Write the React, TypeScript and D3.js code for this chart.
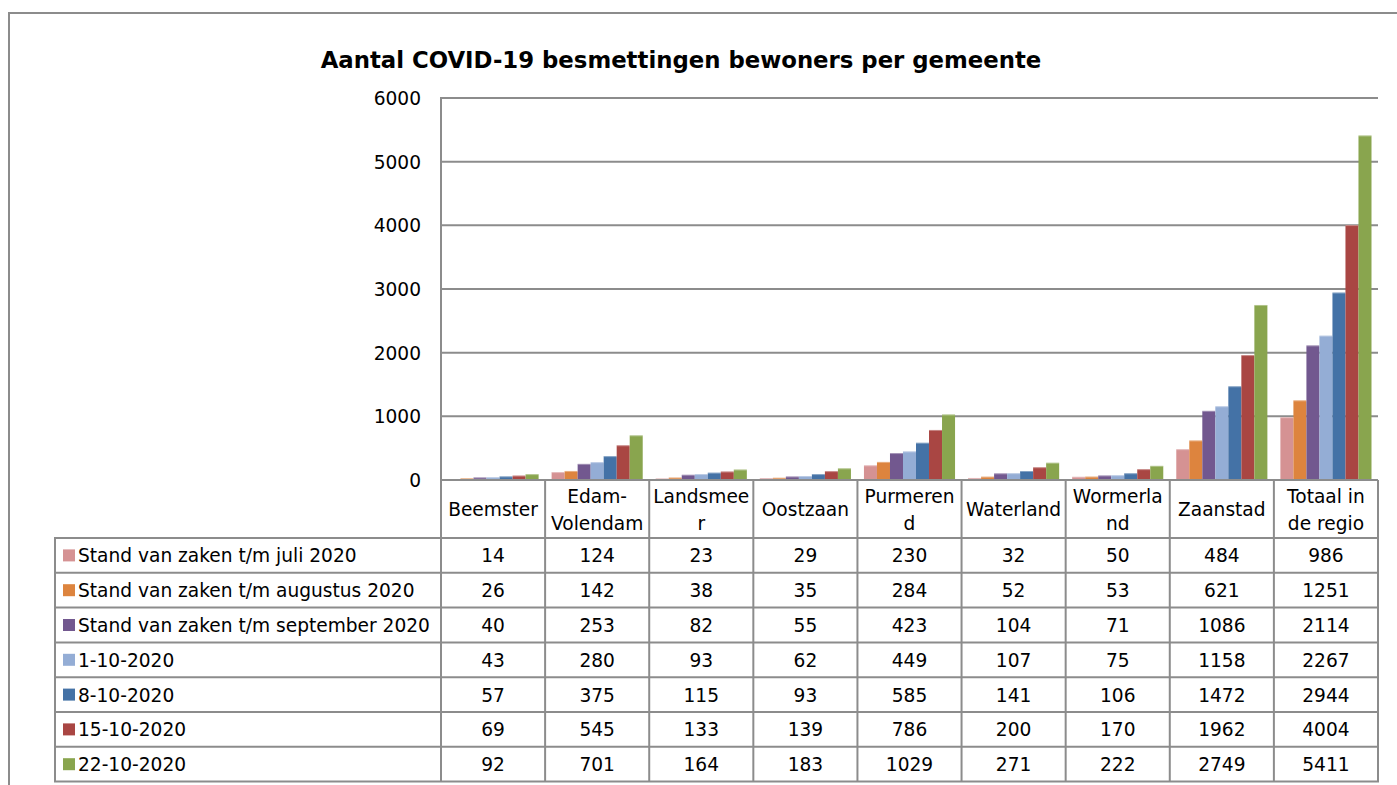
import React from "react";
import * as d3 from "d3";

const categories = ["Beemster", "Edam-Volendam", "Landsmeer", "Oostzaan", "Purmerend", "Waterland", "Wormerland", "Zaanstad", "Totaal in de regio"];
const categoryLabelLines = [["Beemster"], ["Edam-", "Volendam"], ["Landsmee", "r"], ["Oostzaan"], ["Purmeren", "d"], ["Waterland"], ["Wormerla", "nd"], ["Zaanstad"], ["Totaal in", "de regio"]];

const seriesNames = [
  "Stand van zaken t/m juli 2020",
  "Stand van zaken t/m augustus 2020",
  "Stand van zaken t/m september 2020",
  "1-10-2020",
  "8-10-2020",
  "15-10-2020",
  "22-10-2020",
];
const juli = [14, 124, 23, 29, 230, 32, 50, 484, 986];
const augustus = [26, 142, 38, 35, 284, 52, 53, 621, 1251];
const september = [40, 253, 82, 55, 423, 104, 71, 1086, 2114];
const okt1 = [43, 280, 93, 62, 449, 107, 75, 1158, 2267];
const okt8 = [57, 375, 115, 93, 585, 141, 106, 1472, 2944];
const okt15 = [69, 545, 133, 139, 786, 200, 170, 1962, 4004];
const okt22 = [92, 701, 164, 183, 1029, 271, 222, 2749, 5411];
const seriesValues = [juli, augustus, september, okt1, okt8, okt15, okt22];
const yTicks = [0, 1000, 2000, 3000, 4000, 5000, 6000];

const colors = ["#D59293", "#DD843E", "#72588F", "#94ADD5", "#4472A6", "#A94643", "#89A54E"];

const W = 1397;
const H = 785;
const plotLeft = 441;
const plotRight = 1378;
const plotTop = 98;
const plotBottom = 480;
const tableLeft = 55;
const headerBottom = 538;
const rowH = 34.8;
const font = "Tahoma, 'DejaVu Sans', sans-serif";
const gridColor = "#8c8c8c";
const fs = 18.6;

export default function App() {
  const x = d3.scaleBand<string>().domain(categories).range([plotLeft, plotRight]).paddingInner(0).paddingOuter(0);
  const y = d3.scaleLinear().domain([0, 6000]).range([plotBottom, plotTop]);
  const bw = x.bandwidth();
  const inner = d3
    .scaleBand<number>()
    .domain(d3.range(seriesNames.length))
    .range([bw / 16, bw - bw / 16])
    .padding(0);

  const colEdges = categories.map((c) => x(c)!).concat([plotRight]);

  return (
    <svg width={W} height={H} style={{ position: "absolute", left: 0, top: 0, background: "#fff" }} fontFamily={font}>
      <rect x={9} y={13} width={W + 20} height={H + 20} fill="#fff" stroke="#8c8c8c" strokeWidth={2} />
      <text x={681} y={68} textAnchor="middle" fontWeight="bold" fontSize={22.8} fill="#000">
        Aantal COVID-19 besmettingen bewoners per gemeente
      </text>

      {/* gridlines */}
      {yTicks.map((t) => (
        <line key={t} x1={plotLeft} x2={plotRight} y1={y(t)} y2={y(t)} stroke={gridColor} strokeWidth={2} />
      ))}
      {yTicks.map((t) => (
        <text key={"l" + t} x={421} y={y(t) + 7} textAnchor="end" fontSize={fs} fill="#000">
          {t}
        </text>
      ))}

      {/* bars */}
      {seriesValues.map((vals, si) =>
        vals.map((v, ci) => (
          <rect
            key={si + "-" + ci}
            x={x(categories[ci])! + inner(si)!}
            y={y(v)}
            width={inner.bandwidth()}
            height={plotBottom - y(v)}
            fill={colors[si]}
          />
        ))
      )}
      {seriesValues.map((vals, si) =>
        vals.map((v, ci) => (
          <line
            key={"t" + si + "-" + ci}
            x1={x(categories[ci])! + inner(si)!}
            x2={x(categories[ci])! + inner(si)! + inner.bandwidth()}
            y1={y(v) + 0.5}
            y2={y(v) + 0.5}
            stroke="#fff"
            strokeOpacity={0.35}
            strokeWidth={1}
          />
        ))
      )}

      {/* y axis */}
      <line x1={plotLeft} x2={plotLeft} y1={plotTop - 1} y2={plotBottom} stroke={gridColor} strokeWidth={2} />

      {/* table */}
      {colEdges.map((cx, i) => (
        <line key={"v" + i} x1={cx} x2={cx} y1={plotBottom} y2={headerBottom + rowH * 7} stroke={gridColor} strokeWidth={2} />
      ))}
      <line x1={plotLeft} x2={plotRight} y1={plotBottom} y2={plotBottom} stroke={gridColor} strokeWidth={2} />
      <line x1={tableLeft} x2={tableLeft} y1={headerBottom} y2={headerBottom + rowH * 7} stroke={gridColor} strokeWidth={2} />
      {d3.range(8).map((r) => (
        <line
          key={"h" + r}
          x1={tableLeft - 1}
          x2={plotRight + 1}
          y1={headerBottom + r * rowH}
          y2={headerBottom + r * rowH}
          stroke={gridColor}
          strokeWidth={2}
        />
      ))}

      {categoryLabelLines.map((lines, ci) => {
        const cx = x(categories[ci])! + bw / 2;
        const mid = (plotBottom + headerBottom) / 2 + 7;
        return lines.map((ln, li) => (
          <text
            key={"c" + ci + li}
            x={cx}
            y={mid + (li - (lines.length - 1) / 2) * 27}
            textAnchor="middle"
            fontSize={fs}
            fill="#000"
          >
            {ln}
          </text>
        ));
      })}

      {seriesNames.map((name, si) => {
        const rowY = headerBottom + si * rowH;
        const cy = rowY + rowH / 2;
        return (
          <g key={"r" + si}>
            <rect x={63} y={cy - 6} width={12} height={12} fill={colors[si]} />
            <text x={78} y={cy + 7} fontSize={fs} fill="#000">
              {name}
            </text>
            {seriesValues[si].map((v, ci) => (
              <text key={ci} x={x(categories[ci])! + bw / 2} y={cy + 7} textAnchor="middle" fontSize={fs} fill="#000">
                {v}
              </text>
            ))}
          </g>
        );
      })}
    </svg>
  );
}
